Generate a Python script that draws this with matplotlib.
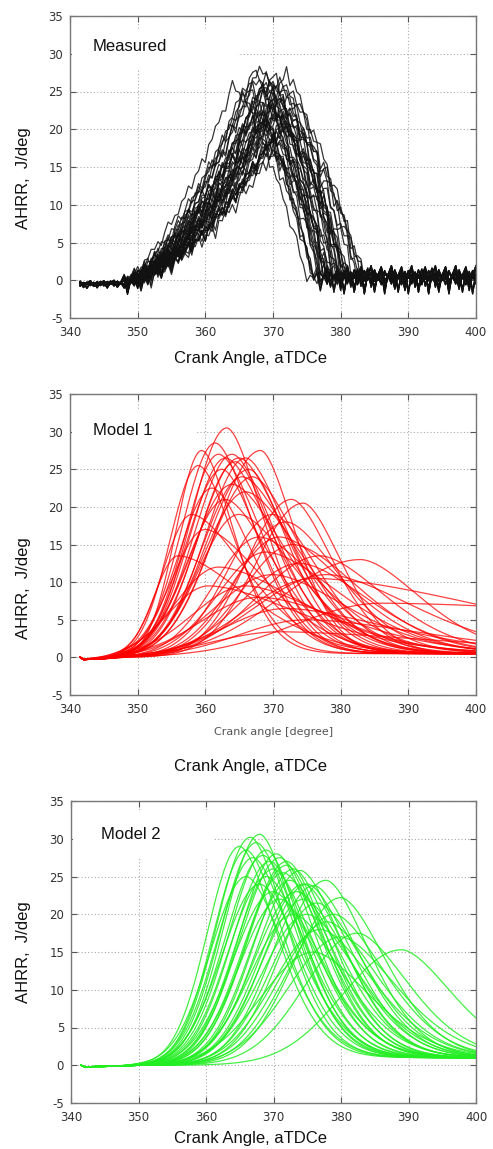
import numpy as np
import matplotlib
matplotlib.use("Agg")
import matplotlib.pyplot as plt
from matplotlib.patches import Rectangle

plt.rcParams['font.family'] = ['Liberation Sans', 'DejaVu Sans']
plt.rcParams['axes.unicode_minus'] = False

W, H = 493, 1149

x_ticks = [340, 350, 360, 370, 380, 390, 400]
y_ticks = [-5, 0, 5, 10, 15, 20, 25, 30, 35]

# Measured cycles: rise start, peak angle, peak height, fall duration (deg)
meas_start = [347.0, 347.0, 347.5, 347.5, 348.0, 347.5, 348.0, 348.5, 348.0, 348.5,
              348.0, 349.0, 348.5, 348.0, 349.0, 348.5, 349.0, 348.5, 349.5, 348.0,
              349.0, 348.5, 349.0, 348.5, 349.0, 349.5, 348.5, 349.0, 349.0, 349.5,
              349.5, 349.5, 349.0, 348.5, 348.0, 347.5, 349.0, 348.5, 348.0, 348.5]
meas_peak = [364.0, 365.5, 366.0, 366.5, 367.0, 367.0, 367.5, 367.5, 368.0, 368.0,
             368.5, 368.5, 369.0, 369.0, 369.0, 369.5, 369.5, 370.0, 370.0, 370.0,
             370.5, 370.5, 371.0, 371.0, 371.5, 371.5, 372.0, 372.0, 372.5, 373.0,
             369.0, 370.0, 370.0, 371.0, 369.5, 367.0, 372.5, 370.0, 368.5, 371.0]
meas_height = [25.5, 24.0, 26.0, 25.0, 27.5, 23.0, 26.5, 22.0, 28.0, 24.5,
               25.5, 21.0, 27.0, 23.5, 20.0, 26.0, 22.5, 25.0, 19.0, 27.0,
               24.0, 21.5, 26.5, 23.0, 25.0, 20.5, 27.5, 22.0, 24.5, 23.0,
               17.5, 16.5, 18.5, 20.0, 22.0, 21.0, 21.0, 24.0, 26.0, 23.5]
meas_fall = [11.0, 10.5, 10.0, 9.5, 10.0, 9.0, 10.5, 9.5, 10.0, 9.0,
             11.0, 10.0, 9.5, 8.5, 9.0, 10.5, 11.0, 8.0, 9.5, 10.0,
             9.0, 10.5, 8.5, 10.0, 9.0, 9.5, 8.0, 10.0, 10.5, 9.5,
             10.0, 9.5, 11.0, 12.0, 12.0, 11.0, 11.0, 7.5, 8.5, 12.5]
meas_ripple = [0.4, -0.3, 0.9, -0.2, 0.5, -1.6, 0.3, 1.4, -0.5, 0.2,
               -0.9, 0.6, -0.1, 1.1, -1.2, 0.3, -0.4, 0.7, -2.0]
meas_base_ang = [341.5, 347.0, 352.0, 380.0, 400.0]
meas_base_val = [-0.5, -0.4, 0.0, 0.4, 0.4]

# Model 1: peak angle, peak height, rise width, decay width
m1_peak = [359.5, 359.0, 361.5, 363.2, 362.0, 363.0, 364.0, 364.5, 365.0, 366.0,
           366.5, 368.2, 365.5, 367.0, 362.5, 364.0, 366.0, 363.0, 361.0, 358.0,
           356.0, 360.0, 365.0, 372.8, 374.5, 370.0, 372.0, 368.0, 371.0, 369.0,
           373.0, 383.0, 378.0, 376.0, 386.0, 371.0, 375.0, 372.0, 368.0, 366.0,
           370.0, 374.0, 377.0, 362.0, 360.5]
m1_height = [27.5, 25.5, 28.5, 30.5, 27.0, 26.5, 27.0, 26.0, 26.5, 26.5,
             25.0, 27.5, 24.0, 24.0, 25.0, 23.0, 22.0, 21.0, 22.5, 19.0,
             13.5, 17.0, 19.0, 21.0, 20.5, 19.0, 18.0, 16.0, 16.0, 14.0,
             15.0, 13.0, 11.0, 10.5, 7.2, 3.4, 5.0, 6.5, 8.0, 9.5,
             11.0, 12.5, 13.5, 12.0, 9.5]
m1_rise = [5.5, 6.0, 7.0, 7.5, 7.0, 7.5, 8.0, 8.0, 8.5, 8.5,
           9.0, 9.5, 8.5, 9.0, 7.5, 8.5, 9.0, 8.0, 7.0, 6.0,
           5.0, 7.0, 8.5, 9.5, 10.0, 9.5, 10.0, 9.5, 10.0, 10.0,
           10.5, 17.0, 15.0, 14.0, 18.0, 14.0, 14.0, 13.0, 12.0, 11.0,
           12.0, 12.0, 13.0, 9.0, 8.5]
m1_decay = [7.0, 8.0, 8.5, 8.0, 9.5, 10.5, 9.5, 8.5, 10.5, 9.5,
            8.5, 7.5, 11.5, 10.5, 8.5, 12.0, 12.5, 10.5, 9.0, 12.0,
            15.0, 13.0, 12.5, 9.0, 8.5, 10.0, 11.5, 13.5, 14.5, 16.0,
            14.5, 13.0, 19.0, 40.0, 80.0, 35.0, 26.0, 22.0, 19.0, 17.0,
            16.0, 15.0, 14.0, 18.0, 20.0]
m1_base_ang = [341.5, 342.0, 345.0, 348.0]
m1_base_val = [0.0, -0.3, -0.2, 0.0]

# Model 2: peak angle, peak height, rise width, decay width
m2_peak = [365.0, 366.0, 366.6, 368.0, 367.5, 367.0, 368.5, 369.5, 370.5, 371.0,
           370.0, 372.0, 371.5, 373.0, 374.0, 369.0, 372.5, 375.0, 376.0, 377.8,
           373.5, 374.5, 376.5, 380.0, 379.0, 378.0, 382.5, 389.0, 371.0, 368.0,
           366.0, 370.0, 375.0, 377.0, 373.0, 380.0, 376.0, 372.0, 369.0, 374.5]
m2_height = [29.0, 28.5, 30.2, 30.6, 29.5, 27.5, 27.8, 27.0, 28.0, 27.5,
             26.0, 27.0, 25.5, 26.0, 25.8, 25.0, 24.5, 24.0, 23.8, 24.5,
             23.0, 22.0, 21.5, 22.2, 20.0, 19.0, 17.5, 15.3, 22.0, 24.0,
             25.0, 23.0, 20.0, 18.0, 20.0, 17.0, 15.0, 26.5, 28.5, 24.0]
m2_rise = [6.8, 7.0, 7.2, 7.5, 7.5, 7.5, 8.0, 8.0, 8.0, 8.5,
           8.0, 8.5, 8.5, 8.5, 9.0, 8.0, 8.5, 9.0, 9.0, 9.5,
           9.0, 9.0, 9.5, 10.0, 10.0, 10.0, 11.0, 12.5, 8.5, 8.0,
           7.5, 8.5, 9.5, 10.0, 9.0, 11.0, 11.0, 8.5, 8.0, 9.0]
m2_decay = [8.0, 8.0, 8.0, 8.0, 8.5, 8.5, 8.5, 8.5, 8.5, 9.0,
            9.0, 9.0, 9.5, 9.0, 9.5, 9.0, 9.5, 10.0, 10.0, 9.5,
            10.0, 10.5, 10.5, 10.0, 11.0, 11.0, 11.0, 11.0, 9.5, 9.0,
            8.5, 10.0, 11.0, 11.5, 10.5, 12.0, 12.0, 8.5, 8.0, 9.5]
m2_base_ang = [341.5, 342.0, 346.0, 350.0]
m2_base_val = [0.0, -0.2, -0.15, 0.0]


def measured_curve(x, s, p, h, d):
    rise = h * np.clip((x - s) / (p - s), 0, None) ** 1.6
    fall = h * np.clip(1 - np.clip((x - p) / d, 0, None) ** 1.4, 0, None)
    return np.where(x < p, rise, fall)


def model_curve(x, p, h, wl, wr, floor):
    left = h * np.exp(-((p - x) / wl) ** 2)
    right = floor + (h - floor) * np.exp(-(np.abs(x - p) / wr) ** 1.7)
    return np.where(x < p, left, right)


def style_axes(ax):
    ax.set_xlim(340, 400)
    ax.set_ylim(-5, 35)
    ax.set_xticks(x_ticks)
    ax.set_yticks(y_ticks)
    ax.set_axisbelow(True)
    ax.grid(True, linestyle=(0, (1, 2)), color='#aaaaaa', linewidth=0.8)
    for sp in ax.spines.values():
        sp.set_color('#777777')
        sp.set_linewidth(1.0)
    ax.tick_params(direction='in', length=4, width=0.8, color='#555555',
                   top=True, right=True, labelsize=8.5, labelcolor='#333333')
    ax.tick_params(axis='x', pad=6)
    ax.tick_params(axis='y', pad=5)
    for lab in ax.get_xticklabels() + ax.get_yticklabels():
        lab.set_family('DejaVu Sans')


def px(x, y):
    return x / W, 1 - y / H


fig = plt.figure(figsize=(W / 100, H / 100), dpi=100)

ax1 = fig.add_axes([70 / W, (H - 318) / H, 406 / W, 302 / H])
ax2 = fig.add_axes([70 / W, (H - 695) / H, 406 / W, 301 / H])
ax3 = fig.add_axes([71 / W, (H - 1103) / H, 405 / W, 302 / H])

# --- Measured
xm = np.arange(341.5, 400.01, 0.5)
base = np.interp(xm, meas_base_ang, meas_base_val)
noise_scale = np.where(xm < 348, 0.3, np.where(xm < 376, 0.8, 1.1))
rip = np.array(meas_ripple)
for i in range(len(meas_peak)):
    # only a few distinct ripple phases so the tail band is uneven like the scan
    r = np.resize(np.roll(rip, (i % 6) * 3), len(xm))
    y = measured_curve(xm, meas_start[i], meas_peak[i], meas_height[i], meas_fall[i])
    y = y + base + r * noise_scale * (0.7 + 0.1 * (i % 4))
    ax1.plot(xm, y, color='#111111', lw=0.9, alpha=0.85)

# --- Model 1
xr = np.arange(341.5, 400.01, 0.25)
base_r = np.interp(xr, m1_base_ang, m1_base_val)
for i in range(len(m1_peak)):
    y = model_curve(xr, m1_peak[i], m1_height[i], m1_rise[i], m1_decay[i], 0.5)
    ax2.plot(xr, y + base_r, color='#ff0000', lw=0.9, alpha=0.75)

# --- Model 2
base_g = np.interp(xr, m2_base_ang, m2_base_val)
for i in range(len(m2_peak)):
    y = model_curve(xr, m2_peak[i], m2_height[i], m2_rise[i], m2_decay[i], 1.0)
    ax3.plot(xr, y + base_g, color='#22ee22', lw=0.9, alpha=0.85)

for ax in (ax1, ax2, ax3):
    style_axes(ax)

# white boxes behind the panel labels (gnuplot style)
ax1.add_patch(Rectangle((340.3, 27.8), 24.5, 5.3, facecolor='white', edgecolor='none', zorder=1))
ax2.add_patch(Rectangle((340.3, 27.2), 18.5, 5.8, facecolor='white', edgecolor='none', zorder=1))
ax3.add_patch(Rectangle((340.3, 27.5), 20.7, 6.3, facecolor='white', edgecolor='none', zorder=1))

ax1.text(343.4, 30.9, 'Measured', fontsize=12, va='center', ha='left', color='#111111', zorder=3)
ax2.text(343.4, 30.1, 'Model 1', fontsize=12, va='center', ha='left', color='#111111', zorder=3)
ax3.text(344.4, 30.6, 'Model 2', fontsize=12, va='center', ha='left', color='#111111', zorder=3)

# axis titles
for yc in (178, 588, 952):
    fig.text(*px(24, yc), 'AHRR,  J/deg', rotation=90, fontsize=12,
             ha='center', va='center', color='#111111')
for yc in (359, 766, 1138):
    fig.text(*px(251, yc), 'Crank Angle, aTDCe', fontsize=12,
             ha='center', va='center', color='#111111')
fig.text(*px(274, 732), 'Crank angle [degree]', fontsize=8, family='DejaVu Sans',
         ha='center', va='center', color='#555555')

fig.savefig('out.png', dpi=100)
